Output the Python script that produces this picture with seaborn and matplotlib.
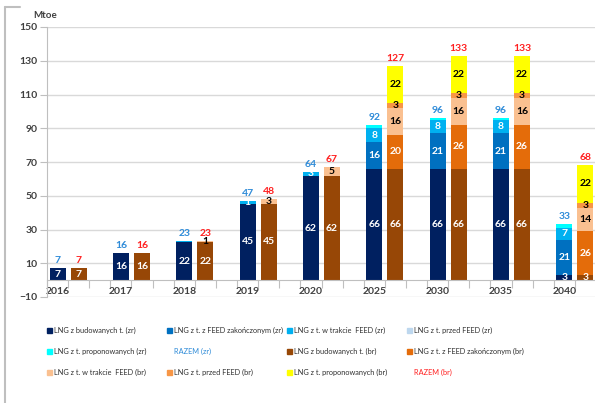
import numpy as np
import pandas as pd
import seaborn as sns
import matplotlib.pyplot as plt
from matplotlib.patches import Rectangle
from matplotlib.lines import Line2D

# %%
years = ['2016', '2017', '2018', '2019', '2020', '2025', '2030', '2035', '2040']

# zr series (bottom -> top)
zr_built = [7, 16, 22.4, 45.4, 61.6, 66, 66, 66, 3]
zr_feed_done = [0, 0, 0, 0, 0, 16, 21, 21, 21]
zr_feed_prog = [0, 0, 0.6, 1.2, 2.6, 8, 8, 8, 7]
zr_pre_feed = [0, 0, 0, 0, 0, 0, 0, 0, 0]
zr_proposed = [0, 0, 0, 0, 0, 2, 1, 1, 2]
zr_total = [7, 16, 23, 47, 64, 92, 96, 96, 33]

# br series (bottom -> top)
br_built = [7, 16, 22.4, 45.4, 61.6, 66, 66, 66, 3]
br_feed_done = [0, 0, 0, 0, 0, 20, 26, 26, 26]
br_feed_prog = [0, 0, 0.9, 2.8, 5.2, 16, 16, 16, 14]
br_pre_feed = [0, 0, 0, 0, 0, 3, 3, 3, 3]
br_proposed = [0, 0, 0, 0, 0, 22, 22, 22, 22]
br_total = [7, 16, 23, 48, 67, 127, 133, 133, 68]

zr_names = ['LNG z budowanych t. (zr)', 'LNG z t. z FEED zakończonym (zr)',
            'LNG z t. w trakcie  FEED (zr)', 'LNG z t. przed FEED (zr)',
            'LNG z t. proponowanych (zr)']
br_names = ['LNG z budowanych t. (br)', 'LNG z t. z FEED zakończonym (br)',
            'LNG z t. w trakcie  FEED (br)', 'LNG z t. przed FEED (br)',
            'LNG z t. proponowanych (br)']

# --- Colors
zr_colors = ['#002060', '#0070C0', '#00B0F0', '#BDD7EE', '#00FFFF']
br_colors = ['#974706', '#E46C0A', '#FAC090', '#F79646', '#FFFF00']
zr_lbl_colors = ['white', 'white', 'white', 'black', 'black']
br_lbl_colors = ['white', 'white', 'black', 'black', 'black']
zr_show_lbl = [True, True, True, False, False]
br_show_lbl = [True, True, True, True, True]
zr_total_color = '#2E8BD8'
br_total_color = '#FF2020'

# %%
sns.set_style('white')
plt.rcParams['font.family'] = ['Lato', 'DejaVu Sans']

zr_layers = np.array([zr_built, zr_feed_done, zr_feed_prog, zr_pre_feed, zr_proposed], dtype=float)
br_layers = np.array([br_built, br_feed_done, br_feed_prog, br_pre_feed, br_proposed], dtype=float)

slots = []
for y in years:
    slots += [f'{y} zr', f'{y} br', f'{y} gap']

rows = []
for side, layers in [('zr', zr_layers), ('br', br_layers)]:
    cum = np.cumsum(layers, axis=0)
    for k in range(layers.shape[0]):
        for i, y in enumerate(years):
            rows.append(dict(slot=f'{y} {side}', side=side, layer=k,
                             value=layers[k, i], cum=cum[k, i]))
df = pd.DataFrame(rows)

W, H = 595, 403
fig = plt.figure(figsize=(W / 100, H / 100), dpi=100)
ax = fig.add_axes([47 / W, 1 - 297 / H, (596 - 47) / W, (297 - 27) / H])

# draw cumulative bars from top layer down so lower layers cover them
for k in range(4, -1, -1):
    sub = df.loc[(df['layer'] == k) & (df['value'] > 0)]
    if sub.empty:
        continue
    sns.barplot(data=sub, x='slot', y='cum', hue='side', order=slots,
                hue_order=['zr', 'br'], palette=[zr_colors[k], br_colors[k]],
                dodge=False, width=0.76, saturation=1, errorbar=None,
                legend=False, linewidth=0, ax=ax)

# segment labels
for side, layers, lcols, show in [('zr', zr_layers, zr_lbl_colors, zr_show_lbl),
                                  ('br', br_layers, br_lbl_colors, br_show_lbl)]:
    cum = np.cumsum(layers, axis=0)
    for k in range(layers.shape[0]):
        if not show[k]:
            continue
        for i in range(len(years)):
            v = layers[k, i]
            if v < 0.8:
                continue
            x = 3 * i + (side == 'br')
            ax.text(x, cum[k, i] - v / 2, f'{v:.0f}', ha='center', va='center',
                    fontsize=7.5, fontweight='bold', color=lcols[k])

# totals
for i in range(len(years)):
    ax.text(3 * i, zr_layers[:, i].sum() + 1.8, f'{zr_total[i]}', ha='center', va='bottom',
            fontsize=7.5, fontweight='bold', color=zr_total_color)
    ax.text(3 * i + 1, br_layers[:, i].sum() + 1.8, f'{br_total[i]}', ha='center', va='bottom',
            fontsize=7.5, fontweight='bold', color=br_total_color)

# axes
ax.set_xlim(-0.5, 25.5)
ax.set_ylim(-10, 150)
ax.set_yticks(range(-10, 151, 20))
ax.yaxis.grid(True, color='#d9d9d9', lw=1)
ax.set_axisbelow(True)
ax.set_xlabel('')
ax.set_ylabel('')
for s in ['top', 'right']:
    ax.spines[s].set_visible(False)
ax.spines['left'].set_color('#bfbfbf')
ax.spines['bottom'].set_color('#bfbfbf')
ax.spines['bottom'].set_position(('data', 0))

ax.set_xticks(np.arange(-0.5, 25.6, 1))
ax.set_xticklabels([])
ax.set_xticks([3 * i for i in range(len(years))], minor=True)
ax.set_xticklabels(years, minor=True, fontsize=7.5, fontweight='bold', color='#404040')
ax.tick_params(axis='x', which='major', bottom=True, length=6, width=0.8,
               color='#bfbfbf', direction='out')
ax.tick_params(axis='x', which='minor', bottom=True, length=0, pad=5)
ax.tick_params(axis='y', left=True, length=5, width=0.8, color='#bfbfbf',
               labelsize=7.5, labelcolor='#404040', pad=2)
for t in ax.get_yticklabels():
    t.set_fontweight('bold')

fig.text(33 / W, 1 - 15 / H, 'Mtoe', fontsize=7, fontweight='bold', color='#404040', va='center')

# legend (Excel-like grid, row-major)
items = [(n, c, '#303030') for n, c in zip(zr_names, zr_colors)]
items.append(('RAZEM (zr)', None, zr_total_color))
items += [(n, c, '#303030') for n, c in zip(br_names, br_colors)]
items.append(('RAZEM (br)', None, br_total_color))
for j, (name, col, tcol) in enumerate(items):
    r, c = divmod(j, 4)
    px = 47 + c * 120
    py = 330 + r * 21
    if col is not None:
        fig.add_artist(Rectangle((px / W, 1 - (py + 2.5) / H), 5 / W, 5 / H,
                                 color=col, transform=fig.transFigure))
    fig.text((px + 7) / W, 1 - py / H, name, fontsize=5.3, color=tcol, va='center')

# chart frame bits
fig.add_artist(Line2D([5 / W, 5 / W], [0, 1 - 7 / H], color='#bfbfbf', lw=1.5))
fig.add_artist(Line2D([5 / W, 20 / W], [1 - 7 / H, 1 - 7 / H], color='#bfbfbf', lw=1.5))

fig.savefig('out.png', dpi=100)
